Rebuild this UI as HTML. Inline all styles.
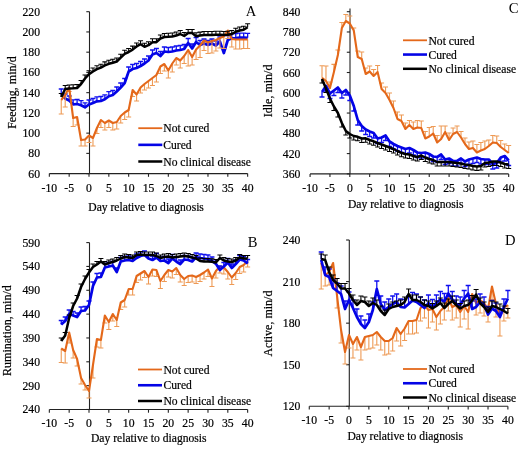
<!DOCTYPE html>
<html><head><meta charset="utf-8"><style>
html,body{margin:0;padding:0;background:#fff;}
svg{display:block;filter:blur(0.3px);}
text{font-family:"Liberation Serif", serif;fill:#000;stroke:#000;stroke-width:0.2px;}
</style></head><body>
<svg width="520" height="451" viewBox="0 0 520 451">
<rect width="520" height="451" fill="#fff"/>
<path d="M89.50 11.70V173.60" stroke="#222" stroke-width="1.1" fill="none"/><path d="M86.30 11.70H89.50" stroke="#222" stroke-width="1.1" fill="none"/><path d="M86.30 31.94H89.50" stroke="#222" stroke-width="1.1" fill="none"/><path d="M86.30 52.18H89.50" stroke="#222" stroke-width="1.1" fill="none"/><path d="M86.30 72.42H89.50" stroke="#222" stroke-width="1.1" fill="none"/><path d="M86.30 92.66H89.50" stroke="#222" stroke-width="1.1" fill="none"/><path d="M86.30 112.90H89.50" stroke="#222" stroke-width="1.1" fill="none"/><path d="M86.30 133.14H89.50" stroke="#222" stroke-width="1.1" fill="none"/><path d="M86.30 153.38H89.50" stroke="#222" stroke-width="1.1" fill="none"/><path d="M86.30 173.62H89.50" stroke="#222" stroke-width="1.1" fill="none"/><path d="M49.34 173.60H247.64" stroke="#222" stroke-width="1.1" fill="none"/><path d="M49.34 173.60V176.80" stroke="#222" stroke-width="1.1" fill="none"/><path d="M69.17 173.60V176.80" stroke="#222" stroke-width="1.1" fill="none"/><path d="M89.00 173.60V176.80" stroke="#222" stroke-width="1.1" fill="none"/><path d="M108.83 173.60V176.80" stroke="#222" stroke-width="1.1" fill="none"/><path d="M128.66 173.60V176.80" stroke="#222" stroke-width="1.1" fill="none"/><path d="M148.49 173.60V176.80" stroke="#222" stroke-width="1.1" fill="none"/><path d="M168.32 173.60V176.80" stroke="#222" stroke-width="1.1" fill="none"/><path d="M188.15 173.60V176.80" stroke="#222" stroke-width="1.1" fill="none"/><path d="M207.98 173.60V176.80" stroke="#222" stroke-width="1.1" fill="none"/><path d="M227.81 173.60V176.80" stroke="#222" stroke-width="1.1" fill="none"/><path d="M247.64 173.60V176.80" stroke="#222" stroke-width="1.1" fill="none"/><text x="40.00" y="15.70" font-size="11.7" text-anchor="end" >220</text><text x="40.00" y="35.94" font-size="11.7" text-anchor="end" >200</text><text x="40.00" y="56.18" font-size="11.7" text-anchor="end" >180</text><text x="40.00" y="76.42" font-size="11.7" text-anchor="end" >160</text><text x="40.00" y="96.66" font-size="11.7" text-anchor="end" >140</text><text x="40.00" y="116.90" font-size="11.7" text-anchor="end" >120</text><text x="40.00" y="137.14" font-size="11.7" text-anchor="end" >100</text><text x="40.00" y="157.38" font-size="11.7" text-anchor="end" >80</text><text x="40.00" y="177.62" font-size="11.7" text-anchor="end" >60</text><text x="49.34" y="191.50" font-size="11.7" text-anchor="middle" >-10</text><text x="69.17" y="191.50" font-size="11.7" text-anchor="middle" >-5</text><text x="89.00" y="191.50" font-size="11.7" text-anchor="middle" >0</text><text x="108.83" y="191.50" font-size="11.7" text-anchor="middle" >5</text><text x="128.66" y="191.50" font-size="11.7" text-anchor="middle" >10</text><text x="148.49" y="191.50" font-size="11.7" text-anchor="middle" >15</text><text x="168.32" y="191.50" font-size="11.7" text-anchor="middle" >20</text><text x="188.15" y="191.50" font-size="11.7" text-anchor="middle" >25</text><text x="207.98" y="191.50" font-size="11.7" text-anchor="middle" >30</text><text x="227.81" y="191.50" font-size="11.7" text-anchor="middle" >35</text><text x="247.64" y="191.50" font-size="11.7" text-anchor="middle" >40</text><text x="88.30" y="211.00" font-size="11.6" text-anchor="start" >Day relative to diagnosis</text><text transform="translate(16.40,92.50) rotate(-90)" font-size="12" text-anchor="middle">Feeding, min/d</text><text x="245.80" y="15.90" font-size="14.6" text-anchor="start" style="stroke-width:0">A</text><path d="M350.00 8.50V173.90" stroke="#222" stroke-width="1.1" fill="none"/><path d="M346.80 11.70H350.00" stroke="#222" stroke-width="1.1" fill="none"/><path d="M346.80 31.97H350.00" stroke="#222" stroke-width="1.1" fill="none"/><path d="M346.80 52.24H350.00" stroke="#222" stroke-width="1.1" fill="none"/><path d="M346.80 72.51H350.00" stroke="#222" stroke-width="1.1" fill="none"/><path d="M346.80 92.78H350.00" stroke="#222" stroke-width="1.1" fill="none"/><path d="M346.80 113.05H350.00" stroke="#222" stroke-width="1.1" fill="none"/><path d="M346.80 133.32H350.00" stroke="#222" stroke-width="1.1" fill="none"/><path d="M346.80 153.59H350.00" stroke="#222" stroke-width="1.1" fill="none"/><path d="M346.80 173.86H350.00" stroke="#222" stroke-width="1.1" fill="none"/><path d="M310.08 173.90H508.68" stroke="#222" stroke-width="1.1" fill="none"/><path d="M310.08 173.90V177.10" stroke="#222" stroke-width="1.1" fill="none"/><path d="M329.94 173.90V177.10" stroke="#222" stroke-width="1.1" fill="none"/><path d="M349.80 173.90V177.10" stroke="#222" stroke-width="1.1" fill="none"/><path d="M369.66 173.90V177.10" stroke="#222" stroke-width="1.1" fill="none"/><path d="M389.52 173.90V177.10" stroke="#222" stroke-width="1.1" fill="none"/><path d="M409.38 173.90V177.10" stroke="#222" stroke-width="1.1" fill="none"/><path d="M429.24 173.90V177.10" stroke="#222" stroke-width="1.1" fill="none"/><path d="M449.10 173.90V177.10" stroke="#222" stroke-width="1.1" fill="none"/><path d="M468.96 173.90V177.10" stroke="#222" stroke-width="1.1" fill="none"/><path d="M488.82 173.90V177.10" stroke="#222" stroke-width="1.1" fill="none"/><path d="M508.68 173.90V177.10" stroke="#222" stroke-width="1.1" fill="none"/><text x="300.40" y="15.70" font-size="11.7" text-anchor="end" >840</text><text x="300.40" y="35.97" font-size="11.7" text-anchor="end" >780</text><text x="300.40" y="56.24" font-size="11.7" text-anchor="end" >720</text><text x="300.40" y="76.51" font-size="11.7" text-anchor="end" >660</text><text x="300.40" y="96.78" font-size="11.7" text-anchor="end" >600</text><text x="300.40" y="117.05" font-size="11.7" text-anchor="end" >540</text><text x="300.40" y="137.32" font-size="11.7" text-anchor="end" >480</text><text x="300.40" y="157.59" font-size="11.7" text-anchor="end" >420</text><text x="300.40" y="177.86" font-size="11.7" text-anchor="end" >360</text><text x="310.08" y="191.50" font-size="11.7" text-anchor="middle" >-10</text><text x="329.94" y="191.50" font-size="11.7" text-anchor="middle" >-5</text><text x="349.80" y="191.50" font-size="11.7" text-anchor="middle" >0</text><text x="369.66" y="191.50" font-size="11.7" text-anchor="middle" >5</text><text x="389.52" y="191.50" font-size="11.7" text-anchor="middle" >10</text><text x="409.38" y="191.50" font-size="11.7" text-anchor="middle" >15</text><text x="429.24" y="191.50" font-size="11.7" text-anchor="middle" >20</text><text x="449.10" y="191.50" font-size="11.7" text-anchor="middle" >25</text><text x="468.96" y="191.50" font-size="11.7" text-anchor="middle" >30</text><text x="488.82" y="191.50" font-size="11.7" text-anchor="middle" >35</text><text x="508.68" y="191.50" font-size="11.7" text-anchor="middle" >40</text><text x="348.00" y="207.80" font-size="11.6" text-anchor="start" >Day relative to diagnosis</text><text transform="translate(271.70,90.90) rotate(-90)" font-size="12" text-anchor="middle">Idle, min/d</text><text x="508.80" y="12.90" font-size="14.6" text-anchor="start" style="stroke-width:0">C</text><path d="M89.50 242.60V409.50" stroke="#222" stroke-width="1.1" fill="none"/><path d="M86.30 242.60H89.50" stroke="#222" stroke-width="1.1" fill="none"/><path d="M86.30 266.44H89.50" stroke="#222" stroke-width="1.1" fill="none"/><path d="M86.30 290.28H89.50" stroke="#222" stroke-width="1.1" fill="none"/><path d="M86.30 314.12H89.50" stroke="#222" stroke-width="1.1" fill="none"/><path d="M86.30 337.96H89.50" stroke="#222" stroke-width="1.1" fill="none"/><path d="M86.30 361.80H89.50" stroke="#222" stroke-width="1.1" fill="none"/><path d="M86.30 385.64H89.50" stroke="#222" stroke-width="1.1" fill="none"/><path d="M86.30 409.48H89.50" stroke="#222" stroke-width="1.1" fill="none"/><path d="M49.34 409.50H247.64" stroke="#222" stroke-width="1.1" fill="none"/><path d="M49.34 409.50V412.70" stroke="#222" stroke-width="1.1" fill="none"/><path d="M69.17 409.50V412.70" stroke="#222" stroke-width="1.1" fill="none"/><path d="M89.00 409.50V412.70" stroke="#222" stroke-width="1.1" fill="none"/><path d="M108.83 409.50V412.70" stroke="#222" stroke-width="1.1" fill="none"/><path d="M128.66 409.50V412.70" stroke="#222" stroke-width="1.1" fill="none"/><path d="M148.49 409.50V412.70" stroke="#222" stroke-width="1.1" fill="none"/><path d="M168.32 409.50V412.70" stroke="#222" stroke-width="1.1" fill="none"/><path d="M188.15 409.50V412.70" stroke="#222" stroke-width="1.1" fill="none"/><path d="M207.98 409.50V412.70" stroke="#222" stroke-width="1.1" fill="none"/><path d="M227.81 409.50V412.70" stroke="#222" stroke-width="1.1" fill="none"/><path d="M247.64 409.50V412.70" stroke="#222" stroke-width="1.1" fill="none"/><text x="40.00" y="246.60" font-size="11.7" text-anchor="end" >590</text><text x="40.00" y="270.44" font-size="11.7" text-anchor="end" >540</text><text x="40.00" y="294.28" font-size="11.7" text-anchor="end" >490</text><text x="40.00" y="318.12" font-size="11.7" text-anchor="end" >440</text><text x="40.00" y="341.96" font-size="11.7" text-anchor="end" >390</text><text x="40.00" y="365.80" font-size="11.7" text-anchor="end" >340</text><text x="40.00" y="389.64" font-size="11.7" text-anchor="end" >290</text><text x="40.00" y="413.48" font-size="11.7" text-anchor="end" >240</text><text x="49.34" y="426.90" font-size="11.7" text-anchor="middle" >-10</text><text x="69.17" y="426.90" font-size="11.7" text-anchor="middle" >-5</text><text x="89.00" y="426.90" font-size="11.7" text-anchor="middle" >0</text><text x="108.83" y="426.90" font-size="11.7" text-anchor="middle" >5</text><text x="128.66" y="426.90" font-size="11.7" text-anchor="middle" >10</text><text x="148.49" y="426.90" font-size="11.7" text-anchor="middle" >15</text><text x="168.32" y="426.90" font-size="11.7" text-anchor="middle" >20</text><text x="188.15" y="426.90" font-size="11.7" text-anchor="middle" >25</text><text x="207.98" y="426.90" font-size="11.7" text-anchor="middle" >30</text><text x="227.81" y="426.90" font-size="11.7" text-anchor="middle" >35</text><text x="247.64" y="426.90" font-size="11.7" text-anchor="middle" >40</text><text x="91.00" y="442.30" font-size="11.6" text-anchor="start" >Day relative to diagnosis</text><text transform="translate(11.00,330.60) rotate(-90)" font-size="12" text-anchor="middle">Rumination, min/d</text><text x="247.80" y="247.20" font-size="14.6" text-anchor="start" style="stroke-width:0">B</text><path d="M349.30 240.00V406.30" stroke="#222" stroke-width="1.1" fill="none"/><path d="M346.10 240.00H349.30" stroke="#222" stroke-width="1.1" fill="none"/><path d="M346.10 281.58H349.30" stroke="#222" stroke-width="1.1" fill="none"/><path d="M346.10 323.16H349.30" stroke="#222" stroke-width="1.1" fill="none"/><path d="M346.10 364.74H349.30" stroke="#222" stroke-width="1.1" fill="none"/><path d="M346.10 406.32H349.30" stroke="#222" stroke-width="1.1" fill="none"/><path d="M309.28 406.30H507.88" stroke="#222" stroke-width="1.1" fill="none"/><path d="M309.28 406.30V409.50" stroke="#222" stroke-width="1.1" fill="none"/><path d="M329.14 406.30V409.50" stroke="#222" stroke-width="1.1" fill="none"/><path d="M349.00 406.30V409.50" stroke="#222" stroke-width="1.1" fill="none"/><path d="M368.86 406.30V409.50" stroke="#222" stroke-width="1.1" fill="none"/><path d="M388.72 406.30V409.50" stroke="#222" stroke-width="1.1" fill="none"/><path d="M408.58 406.30V409.50" stroke="#222" stroke-width="1.1" fill="none"/><path d="M428.44 406.30V409.50" stroke="#222" stroke-width="1.1" fill="none"/><path d="M448.30 406.30V409.50" stroke="#222" stroke-width="1.1" fill="none"/><path d="M468.16 406.30V409.50" stroke="#222" stroke-width="1.1" fill="none"/><path d="M488.02 406.30V409.50" stroke="#222" stroke-width="1.1" fill="none"/><path d="M507.88 406.30V409.50" stroke="#222" stroke-width="1.1" fill="none"/><text x="300.40" y="244.00" font-size="11.7" text-anchor="end" >240</text><text x="300.40" y="285.58" font-size="11.7" text-anchor="end" >210</text><text x="300.40" y="327.16" font-size="11.7" text-anchor="end" >180</text><text x="300.40" y="368.74" font-size="11.7" text-anchor="end" >150</text><text x="300.40" y="410.32" font-size="11.7" text-anchor="end" >120</text><text x="309.28" y="424.30" font-size="11.7" text-anchor="middle" >-10</text><text x="329.14" y="424.30" font-size="11.7" text-anchor="middle" >-5</text><text x="349.00" y="424.30" font-size="11.7" text-anchor="middle" >0</text><text x="368.86" y="424.30" font-size="11.7" text-anchor="middle" >5</text><text x="388.72" y="424.30" font-size="11.7" text-anchor="middle" >10</text><text x="408.58" y="424.30" font-size="11.7" text-anchor="middle" >15</text><text x="428.44" y="424.30" font-size="11.7" text-anchor="middle" >20</text><text x="448.30" y="424.30" font-size="11.7" text-anchor="middle" >25</text><text x="468.16" y="424.30" font-size="11.7" text-anchor="middle" >30</text><text x="488.02" y="424.30" font-size="11.7" text-anchor="middle" >35</text><text x="507.88" y="424.30" font-size="11.7" text-anchor="middle" >40</text><text x="347.40" y="440.00" font-size="11.6" text-anchor="start" >Day relative to diagnosis</text><text transform="translate(271.90,323.60) rotate(-90)" font-size="12" text-anchor="middle">Active, min/d</text><text x="505.10" y="244.90" font-size="14.6" text-anchor="start" style="stroke-width:0">D</text><path d="M61.24 93.50V89.00M58.74 89.00H63.74M65.20 98.50V94.00M62.70 94.00H67.70M69.17 100.50V96.00M66.67 96.00H71.67M73.14 104.30V99.80M70.64 99.80H75.64M77.10 104.00V99.50M74.60 99.50H79.60M81.07 105.20V100.70M78.57 100.70H83.57M85.03 107.30V102.80M82.53 102.80H87.53M89.00 104.50V100.00M86.50 100.00H91.50M92.97 103.00V98.50M90.47 98.50H95.47M96.93 101.30V96.80M94.43 96.80H99.43M100.90 101.00V96.50M98.40 96.50H103.40M104.86 99.30V94.80M102.36 94.80H107.36M108.83 96.20V91.70M106.33 91.70H111.33M112.80 95.00V90.50M110.30 90.50H115.30M116.76 91.50V87.00M114.26 87.00H119.26M120.73 87.50V83.00M118.23 83.00H123.23M124.69 83.00V78.50M122.19 78.50H127.19M128.66 71.50V67.00M126.16 67.00H131.16M132.63 69.00V64.50M130.13 64.50H135.13M136.59 68.00V63.50M134.09 63.50H139.09M140.56 66.00V61.50M138.06 61.50H143.06M144.52 63.50V59.00M142.02 59.00H147.02M148.49 60.50V56.00M145.99 56.00H150.99M152.46 54.50V50.00M149.96 50.00H154.96M156.42 53.00V48.50M153.92 48.50H158.92M160.39 56.00V51.50M157.89 51.50H162.89M164.35 51.50V47.00M161.85 47.00H166.85M168.32 52.00V47.50M165.82 47.50H170.82M172.29 51.50V47.00M169.79 47.00H174.79M176.25 50.50V46.00M173.75 46.00H178.75M180.22 50.00V45.50M177.72 45.50H182.72M184.18 49.00V44.50M181.68 44.50H186.68M188.15 43.00V38.50M185.65 38.50H190.65M192.12 48.50V44.00M189.62 44.00H194.62M196.08 42.00V37.50M193.58 37.50H198.58M200.05 45.00V40.50M197.55 40.50H202.55M204.01 43.50V39.00M201.51 39.00H206.51M207.98 45.00V40.50M205.48 40.50H210.48M211.95 43.50V39.00M209.45 39.00H214.45M215.91 45.50V41.00M213.41 41.00H218.41M219.88 41.50V37.00M217.38 37.00H222.38M223.84 53.00V48.50M221.34 48.50H226.34M227.81 40.00V35.50M225.31 35.50H230.31M231.78 38.30V33.80M229.28 33.80H234.28M235.74 38.00V33.50M233.24 33.50H238.24M239.71 37.60V33.10M237.21 33.10H242.21M243.67 37.60V33.10M241.17 33.10H246.17M247.64 37.80V33.30M245.14 33.30H250.14" stroke="#1010F0" stroke-width="1.3" fill="none" opacity="1.0"/><polyline points="61.24,93.50 65.20,98.50 69.17,100.50 73.14,104.30 77.10,104.00 81.07,105.20 85.03,107.30 89.00,104.50 92.97,103.00 96.93,101.30 100.90,101.00 104.86,99.30 108.83,96.20 112.80,95.00 116.76,91.50 120.73,87.50 124.69,83.00 128.66,71.50 132.63,69.00 136.59,68.00 140.56,66.00 144.52,63.50 148.49,60.50 152.46,54.50 156.42,53.00 160.39,56.00 164.35,51.50 168.32,52.00 172.29,51.50 176.25,50.50 180.22,50.00 184.18,49.00 188.15,43.00 192.12,48.50 196.08,42.00 200.05,45.00 204.01,43.50 207.98,45.00 211.95,43.50 215.91,45.50 219.88,41.50 223.84,53.00 227.81,40.00 231.78,38.30 235.74,38.00 239.71,37.60 243.67,37.60 247.64,37.80" stroke="#0404E6" stroke-width="2.7" fill="none" stroke-linejoin="round"/><path d="M61.24 100.00V114.00M58.74 114.00H63.74M65.20 95.00V107.00M62.70 107.00H67.70M69.17 87.50V91.50M66.67 91.50H71.67M73.14 118.00V126.50M70.64 126.50H75.64M77.10 117.00V125.00M74.60 125.00H79.60M81.07 140.00V146.00M78.57 146.00H83.57M85.03 139.50V146.00M82.53 146.00H87.53M89.00 135.50V142.50M86.50 142.50H91.50M92.97 138.00V146.00M90.47 146.00H95.47M96.93 128.00V133.50M94.43 133.50H99.43M100.90 120.00V127.50M98.40 127.50H103.40M104.86 123.00V130.00M102.36 130.00H107.36M108.83 120.50V127.50M106.33 127.50H111.33M112.80 123.00V130.00M110.30 130.00H115.30M116.76 122.00V129.00M114.26 129.00H119.26M120.73 116.00V123.00M118.23 123.00H123.23M124.69 112.50V119.50M122.19 119.50H127.19M128.66 110.00V117.00M126.16 117.00H131.16M132.63 90.00V96.50M130.13 96.50H135.13M136.59 94.50V101.00M134.09 101.00H139.09M140.56 87.50V93.00M138.06 93.00H143.06M144.52 84.00V90.00M142.02 90.00H147.02M148.49 81.00V88.00M145.99 88.00H150.99M152.46 78.00V85.50M149.96 85.50H154.96M156.42 75.00V82.00M153.92 82.00H158.92M160.39 66.50V73.50M157.89 73.50H162.89M164.35 64.00V71.00M161.85 71.00H166.85M168.32 70.50V78.00M165.82 78.00H170.82M172.29 63.50V72.00M169.79 72.00H174.79M176.25 58.00V65.00M173.75 65.00H178.75M180.22 60.50V68.00M177.72 68.00H182.72M184.18 56.00V63.50M181.68 63.50H186.68M188.15 50.00V66.00M185.65 66.00H190.65M192.12 57.00V65.00M189.62 65.00H194.62M196.08 49.50V59.50M193.58 59.50H198.58M200.05 45.50V57.50M197.55 57.50H202.55M204.01 40.50V50.50M201.51 50.50H206.51M207.98 42.50V53.50M205.48 53.50H210.48M211.95 41.00V53.00M209.45 53.00H214.45M215.91 40.00V51.00M213.41 51.00H218.41M219.88 38.00V48.00M217.38 48.00H222.38M223.84 36.50V48.50M221.34 48.50H226.34M227.81 30.50V38.50M225.31 38.50H230.31M231.78 39.00V47.00M229.28 47.00H234.28M235.74 39.50V49.00M233.24 49.00H238.24M239.71 39.50V49.00M237.21 49.00H242.21M243.67 39.50V48.50M241.17 48.50H246.17M247.64 39.50V48.50M245.14 48.50H250.14" stroke="#EE9A55" stroke-width="1.1" fill="none" opacity="1.0"/><polyline points="61.24,100.00 65.20,95.00 69.17,87.50 73.14,118.00 77.10,117.00 81.07,140.00 85.03,139.50 89.00,135.50 92.97,138.00 96.93,128.00 100.90,120.00 104.86,123.00 108.83,120.50 112.80,123.00 116.76,122.00 120.73,116.00 124.69,112.50 128.66,110.00 132.63,90.00 136.59,94.50 140.56,87.50 144.52,84.00 148.49,81.00 152.46,78.00 156.42,75.00 160.39,66.50 164.35,64.00 168.32,70.50 172.29,63.50 176.25,58.00 180.22,60.50 184.18,56.00 188.15,50.00 192.12,57.00 196.08,49.50 200.05,45.50 204.01,40.50 207.98,42.50 211.95,41.00 215.91,40.00 219.88,38.00 223.84,36.50 227.81,30.50 231.78,39.00 235.74,39.50 239.71,39.50 243.67,39.50 247.64,39.50" stroke="#E4681A" stroke-width="2.1" fill="none" stroke-linejoin="round"/><path d="M61.24 97.00V93.50M58.74 93.50H63.74M65.20 89.00V85.50M62.70 85.50H67.70M69.17 88.50V85.00M66.67 85.00H71.67M73.14 88.30V84.80M70.64 84.80H75.64M77.10 88.00V84.50M74.60 84.50H79.60M81.07 84.00V80.50M78.57 80.50H83.57M85.03 78.50V75.00M82.53 75.00H87.53M89.00 74.20V70.70M86.50 70.70H91.50M92.97 71.50V68.00M90.47 68.00H95.47M96.93 69.20V65.70M94.43 65.70H99.43M100.90 67.70V64.20M98.40 64.20H103.40M104.86 65.40V61.90M102.36 61.90H107.36M108.83 63.80V60.30M106.33 60.30H111.33M112.80 62.80V59.30M110.30 59.30H115.30M116.76 61.50V58.00M114.26 58.00H119.26M120.73 57.70V54.20M118.23 54.20H123.23M124.69 53.80V50.30M122.19 50.30H127.19M128.66 52.00V48.50M126.16 48.50H131.16M132.63 49.60V46.10M130.13 46.10H135.13M136.59 46.50V43.00M134.09 43.00H139.09M140.56 44.20V40.70M138.06 40.70H143.06M144.52 46.80V43.30M142.02 43.30H147.02M148.49 45.20V41.70M145.99 41.70H150.99M152.46 42.20V38.70M149.96 38.70H154.96M156.42 42.20V38.70M153.92 38.70H158.92M160.39 38.50V35.00M157.89 35.00H162.89M164.35 37.00V33.50M161.85 33.50H166.85M168.32 36.80V33.30M165.82 33.30H170.82M172.29 36.50V33.00M169.79 33.00H174.79M176.25 35.50V32.00M173.75 32.00H178.75M180.22 34.00V30.50M177.72 30.50H182.72M184.18 36.00V32.50M181.68 32.50H186.68M188.15 33.00V29.50M185.65 29.50H190.65M192.12 33.00V29.50M189.62 29.50H194.62M196.08 36.20V32.70M193.58 32.70H198.58M200.05 35.60V32.10M197.55 32.10H202.55M204.01 35.00V31.50M201.51 31.50H206.51M207.98 35.00V31.50M205.48 31.50H210.48M211.95 35.00V31.50M209.45 31.50H214.45M215.91 34.80V31.30M213.41 31.30H218.41M219.88 34.80V31.30M217.38 31.30H222.38M223.84 35.00V31.50M221.34 31.50H226.34M227.81 34.80V31.30M225.31 31.30H230.31M231.78 34.00V30.50M229.28 30.50H234.28M235.74 31.80V28.30M233.24 28.30H238.24M239.71 30.50V27.00M237.21 27.00H242.21M243.67 29.80V26.30M241.17 26.30H246.17M247.64 27.30V23.80M245.14 23.80H250.14" stroke="#000000" stroke-width="1.1" fill="none" opacity="1.0"/><polyline points="61.24,97.00 65.20,89.00 69.17,88.50 73.14,88.30 77.10,88.00 81.07,84.00 85.03,78.50 89.00,74.20 92.97,71.50 96.93,69.20 100.90,67.70 104.86,65.40 108.83,63.80 112.80,62.80 116.76,61.50 120.73,57.70 124.69,53.80 128.66,52.00 132.63,49.60 136.59,46.50 140.56,44.20 144.52,46.80 148.49,45.20 152.46,42.20 156.42,42.20 160.39,38.50 164.35,37.00 168.32,36.80 172.29,36.50 176.25,35.50 180.22,34.00 184.18,36.00 188.15,33.00 192.12,33.00 196.08,36.20 200.05,35.60 204.01,35.00 207.98,35.00 211.95,35.00 215.91,34.80 219.88,34.80 223.84,35.00 227.81,34.80 231.78,34.00 235.74,31.80 239.71,30.50 243.67,29.80 247.64,27.30" stroke="#000000" stroke-width="2.5" fill="none" stroke-linejoin="round"/><path d="M322.00 77.70V65.70M319.50 65.70H324.50M325.97 81.00V66.00M323.47 66.00H328.47M329.94 88.00V82.00M327.44 82.00H332.44M333.91 72.00V64.40M331.41 64.40H336.41M337.88 55.00V50.00M335.38 50.00H340.38M341.86 28.00V22.50M339.36 22.50H344.36M345.83 21.00V14.50M343.33 14.50H348.33M349.80 23.50V16.00M347.30 16.00H352.30M353.77 30.50V28.00M351.27 28.00H356.27M357.74 57.00V51.00M355.24 51.00H360.24M361.72 59.00V52.00M359.22 52.00H364.22M365.69 74.00V68.00M363.19 68.00H368.19M369.66 71.50V66.00M367.16 66.00H372.16M373.63 76.00V69.50M371.13 69.50H376.13M377.60 72.00V65.50M375.10 65.50H380.10M381.58 89.00V83.00M379.08 83.00H384.08M385.55 93.00V87.00M383.05 87.00H388.05M389.52 100.00V93.00M387.02 93.00H392.02M393.49 108.00V101.00M390.99 101.00H395.99M397.46 119.00V112.00M394.96 112.00H399.96M401.44 121.00V115.00M398.94 115.00H403.94M405.41 129.00V123.00M402.91 123.00H407.91M409.38 125.00V120.50M406.88 120.50H411.88M413.35 129.00V122.00M410.85 122.00H415.85M417.32 127.50V120.50M414.82 120.50H419.82M421.30 128.00V121.00M418.80 121.00H423.80M425.27 138.50V131.50M422.77 131.50H427.77M429.24 136.50V127.50M426.74 127.50H431.74M433.21 133.50V126.50M430.71 126.50H435.71M437.18 142.50V135.50M434.68 135.50H439.68M441.16 139.00V126.00M438.66 126.00H443.66M445.13 132.00V126.00M442.63 126.00H447.63M449.10 140.00V133.00M446.60 133.00H451.60M453.07 134.00V128.00M450.57 128.00H455.57M457.04 132.00V126.00M454.54 126.00H459.54M461.02 137.50V131.50M458.52 131.50H463.52M464.99 144.00V138.00M462.49 138.00H467.49M468.96 149.00V142.00M466.46 142.00H471.46M472.93 148.00V141.00M470.43 141.00H475.43M476.90 152.50V144.50M474.40 144.50H479.40M480.88 150.50V142.50M478.38 142.50H483.38M484.85 149.00V141.00M482.35 141.00H487.35M488.82 146.00V140.00M486.32 140.00H491.32M492.79 142.50V135.50M490.29 135.50H495.29M496.76 143.00V136.00M494.26 136.00H499.26M500.74 147.00V140.50M498.24 140.50H503.24M504.71 150.00V144.00M502.21 144.00H507.21M508.68 153.00V145.50M506.18 145.50H511.18" stroke="#EE9A55" stroke-width="1.1" fill="none" opacity="1.0"/><polyline points="322.00,77.70 325.97,81.00 329.94,88.00 333.91,72.00 337.88,55.00 341.86,28.00 345.83,21.00 349.80,23.50 353.77,30.50 357.74,57.00 361.72,59.00 365.69,74.00 369.66,71.50 373.63,76.00 377.60,72.00 381.58,89.00 385.55,93.00 389.52,100.00 393.49,108.00 397.46,119.00 401.44,121.00 405.41,129.00 409.38,125.00 413.35,129.00 417.32,127.50 421.30,128.00 425.27,138.50 429.24,136.50 433.21,133.50 437.18,142.50 441.16,139.00 445.13,132.00 449.10,140.00 453.07,134.00 457.04,132.00 461.02,137.50 464.99,144.00 468.96,149.00 472.93,148.00 476.90,152.50 480.88,150.50 484.85,149.00 488.82,146.00 492.79,142.50 496.76,143.00 500.74,147.00 504.71,150.00 508.68,153.00" stroke="#E4681A" stroke-width="2.1" fill="none" stroke-linejoin="round"/><path d="M322.00 92.00V97.00M319.50 97.00H324.50M325.97 86.00V91.00M323.47 91.00H328.47M329.94 93.50V98.50M327.44 98.50H332.44M333.91 90.50V95.50M331.41 95.50H336.41M337.88 87.50V92.50M335.38 92.50H340.38M341.86 93.00V98.00M339.36 98.00H344.36M345.83 90.00V95.00M343.33 95.00H348.33M349.80 95.50V100.50M347.30 100.50H352.30M353.77 106.00V111.00M351.27 111.00H356.27M357.74 120.00V125.00M355.24 125.00H360.24M361.72 126.00V131.00M359.22 131.00H364.22M365.69 129.50V134.50M363.19 134.50H368.19M369.66 131.50V136.50M367.16 136.50H372.16M373.63 133.00V138.00M371.13 138.00H376.13M377.60 138.50V143.50M375.10 143.50H380.10M381.58 137.50V142.50M379.08 142.50H384.08M385.55 135.50V140.50M383.05 140.50H388.05M389.52 141.50V146.50M387.02 146.50H392.02M393.49 144.00V149.00M390.99 149.00H395.99M397.46 146.00V151.00M394.96 151.00H399.96M401.44 147.50V152.50M398.94 152.50H403.94M405.41 149.00V154.00M402.91 154.00H407.91M409.38 148.00V153.00M406.88 153.00H411.88M413.35 150.00V155.00M410.85 155.00H415.85M417.32 152.50V157.50M414.82 157.50H419.82M421.30 153.00V158.00M418.80 158.00H423.80M425.27 152.50V157.50M422.77 157.50H427.77M429.24 154.00V159.00M426.74 159.00H431.74M433.21 156.50V161.50M430.71 161.50H435.71M437.18 157.00V162.00M434.68 162.00H439.68M441.16 154.50V159.50M438.66 159.50H443.66M445.13 159.50V164.50M442.63 164.50H447.63M449.10 158.50V163.50M446.60 163.50H451.60M453.07 161.00V166.00M450.57 166.00H455.57M457.04 161.00V166.00M454.54 166.00H459.54M461.02 158.50V163.50M458.52 163.50H463.52M464.99 161.50V166.50M462.49 166.50H467.49M468.96 159.50V164.50M466.46 164.50H471.46M472.93 158.50V163.50M470.43 163.50H475.43M476.90 157.50V162.50M474.40 162.50H479.40M480.88 159.00V164.00M478.38 164.00H483.38M484.85 159.50V164.50M482.35 164.50H487.35M488.82 159.50V164.50M486.32 164.50H491.32M492.79 164.00V169.00M490.29 169.00H495.29M496.76 163.00V168.00M494.26 168.00H499.26M500.74 157.50V162.50M498.24 162.50H503.24M504.71 156.00V161.00M502.21 161.00H507.21M508.68 160.50V165.50M506.18 165.50H511.18" stroke="#1010F0" stroke-width="1.3" fill="none" opacity="1.0"/><polyline points="322.00,92.00 325.97,86.00 329.94,93.50 333.91,90.50 337.88,87.50 341.86,93.00 345.83,90.00 349.80,95.50 353.77,106.00 357.74,120.00 361.72,126.00 365.69,129.50 369.66,131.50 373.63,133.00 377.60,138.50 381.58,137.50 385.55,135.50 389.52,141.50 393.49,144.00 397.46,146.00 401.44,147.50 405.41,149.00 409.38,148.00 413.35,150.00 417.32,152.50 421.30,153.00 425.27,152.50 429.24,154.00 433.21,156.50 437.18,157.00 441.16,154.50 445.13,159.50 449.10,158.50 453.07,161.00 457.04,161.00 461.02,158.50 464.99,161.50 468.96,159.50 472.93,158.50 476.90,157.50 480.88,159.00 484.85,159.50 488.82,159.50 492.79,164.00 496.76,163.00 500.74,157.50 504.71,156.00 508.68,160.50" stroke="#0404E6" stroke-width="2.7" fill="none" stroke-linejoin="round"/><path d="M322.00 79.00V83.00M319.50 83.00H324.50M325.97 88.50V92.50M323.47 92.50H328.47M329.94 98.50V102.50M327.44 102.50H332.44M333.91 106.50V110.50M331.41 110.50H336.41M337.88 113.00V117.00M335.38 117.00H340.38M341.86 123.00V127.00M339.36 127.00H344.36M345.83 131.00V135.00M343.33 135.00H348.33M349.80 134.00V138.00M347.30 138.00H352.30M353.77 136.00V140.00M351.27 140.00H356.27M357.74 136.80V140.80M355.24 140.80H360.24M361.72 138.50V142.50M359.22 142.50H364.22M365.69 138.30V142.30M363.19 142.30H368.19M369.66 140.00V144.00M367.16 144.00H372.16M373.63 141.30V145.30M371.13 145.30H376.13M377.60 143.00V147.00M375.10 147.00H380.10M381.58 144.50V148.50M379.08 148.50H384.08M385.55 146.00V150.00M383.05 150.00H388.05M389.52 147.50V151.50M387.02 151.50H392.02M393.49 149.00V153.00M390.99 153.00H395.99M397.46 151.00V155.00M394.96 155.00H399.96M401.44 152.80V156.80M398.94 156.80H403.94M405.41 154.00V158.00M402.91 158.00H407.91M409.38 154.50V158.50M406.88 158.50H411.88M413.35 156.00V160.00M410.85 160.00H415.85M417.32 157.00V161.00M414.82 161.00H419.82M421.30 155.50V159.50M418.80 159.50H423.80M425.27 157.50V161.50M422.77 161.50H427.77M429.24 159.00V163.00M426.74 163.00H431.74M433.21 160.00V164.00M430.71 164.00H435.71M437.18 162.00V166.00M434.68 166.00H439.68M441.16 162.00V166.00M438.66 166.00H443.66M445.13 162.00V166.00M442.63 166.00H447.63M449.10 162.00V166.00M446.60 166.00H451.60M453.07 162.50V166.50M450.57 166.50H455.57M457.04 163.00V167.00M454.54 167.00H459.54M461.02 163.50V167.50M458.52 167.50H463.52M464.99 164.50V168.50M462.49 168.50H467.49M468.96 165.00V169.00M466.46 169.00H471.46M472.93 166.00V170.00M470.43 170.00H475.43M476.90 166.50V170.50M474.40 170.50H479.40M480.88 166.00V170.00M478.38 170.00H483.38M484.85 163.00V167.00M482.35 167.00H487.35M488.82 162.50V166.50M486.32 166.50H491.32M492.79 161.50V165.50M490.29 165.50H495.29M496.76 161.50V165.50M494.26 165.50H499.26M500.74 162.50V166.50M498.24 166.50H503.24M504.71 164.00V168.00M502.21 168.00H507.21M508.68 164.50V168.50M506.18 168.50H511.18" stroke="#000000" stroke-width="1.1" fill="none" opacity="1.0"/><polyline points="322.00,79.00 325.97,88.50 329.94,98.50 333.91,106.50 337.88,113.00 341.86,123.00 345.83,131.00 349.80,134.00 353.77,136.00 357.74,136.80 361.72,138.50 365.69,138.30 369.66,140.00 373.63,141.30 377.60,143.00 381.58,144.50 385.55,146.00 389.52,147.50 393.49,149.00 397.46,151.00 401.44,152.80 405.41,154.00 409.38,154.50 413.35,156.00 417.32,157.00 421.30,155.50 425.27,157.50 429.24,159.00 433.21,160.00 437.18,162.00 441.16,162.00 445.13,162.00 449.10,162.00 453.07,162.50 457.04,163.00 461.02,163.50 464.99,164.50 468.96,165.00 472.93,166.00 476.90,166.50 480.88,166.00 484.85,163.00 488.82,162.50 492.79,161.50 496.76,161.50 500.74,162.50 504.71,164.00 508.68,164.50" stroke="#000000" stroke-width="2.5" fill="none" stroke-linejoin="round"/><path d="M61.24 348.50V362.50M58.74 362.50H63.74M65.20 351.00V363.00M62.70 363.00H67.70M69.17 332.50V343.00M66.67 343.00H71.67M73.14 350.00V358.00M70.64 358.00H75.64M77.10 359.00V366.00M74.60 366.00H79.60M81.07 378.00V384.00M78.57 384.00H83.57M85.03 385.00V390.00M82.53 390.00H87.53M89.00 391.00V398.00M86.50 398.00H91.50M92.97 365.00V378.00M90.47 378.00H95.47M96.93 339.00V347.00M94.43 347.00H99.43M100.90 340.00V348.00M98.40 348.00H103.40M104.86 315.50V323.00M102.36 323.00H107.36M108.83 322.00V329.50M106.33 329.50H111.33M112.80 314.00V321.00M110.30 321.00H115.30M116.76 320.00V326.50M114.26 326.50H119.26M120.73 302.50V309.50M118.23 309.50H123.23M124.69 300.00V307.00M122.19 307.00H127.19M128.66 289.00V295.00M126.16 295.00H131.16M132.63 289.00V295.00M130.13 295.00H135.13M136.59 276.00V282.50M134.09 282.50H139.09M140.56 273.50V280.00M138.06 280.00H143.06M144.52 271.00V277.50M142.02 277.50H147.02M148.49 277.00V284.00M145.99 284.00H150.99M152.46 269.50V276.00M149.96 276.00H154.96M156.42 270.00V276.50M153.92 276.50H158.92M160.39 281.00V288.50M157.89 288.50H162.89M164.35 275.00V281.50M161.85 281.50H166.85M168.32 270.00V277.00M165.82 277.00H170.82M172.29 271.50V278.00M169.79 278.00H174.79M176.25 268.00V274.50M173.75 274.50H178.75M180.22 275.00V282.00M177.72 282.00H182.72M184.18 279.00V285.50M181.68 285.50H186.68M188.15 276.00V282.50M185.65 282.50H190.65M192.12 275.50V282.00M189.62 282.00H194.62M196.08 277.00V283.50M193.58 283.50H198.58M200.05 275.00V281.50M197.55 281.50H202.55M204.01 272.50V279.00M201.51 279.00H206.51M207.98 269.50V276.50M205.48 276.50H210.48M211.95 278.50V286.50M209.45 286.50H214.45M215.91 271.00V278.00M213.41 278.00H218.41M219.88 266.50V273.00M217.38 273.00H222.38M223.84 267.50V274.00M221.34 274.00H226.34M227.81 272.00V279.00M225.31 279.00H230.31M231.78 277.50V284.50M229.28 284.50H234.28M235.74 273.00V279.50M233.24 279.50H238.24M239.71 267.00V273.50M237.21 273.50H242.21M243.67 265.00V272.00M241.17 272.00H246.17M247.64 261.00V267.00M245.14 267.00H250.14" stroke="#EE9A55" stroke-width="1.1" fill="none" opacity="1.0"/><polyline points="61.24,348.50 65.20,351.00 69.17,332.50 73.14,350.00 77.10,359.00 81.07,378.00 85.03,385.00 89.00,391.00 92.97,365.00 96.93,339.00 100.90,340.00 104.86,315.50 108.83,322.00 112.80,314.00 116.76,320.00 120.73,302.50 124.69,300.00 128.66,289.00 132.63,289.00 136.59,276.00 140.56,273.50 144.52,271.00 148.49,277.00 152.46,269.50 156.42,270.00 160.39,281.00 164.35,275.00 168.32,270.00 172.29,271.50 176.25,268.00 180.22,275.00 184.18,279.00 188.15,276.00 192.12,275.50 196.08,277.00 200.05,275.00 204.01,272.50 207.98,269.50 211.95,278.50 215.91,271.00 219.88,266.50 223.84,267.50 227.81,272.00 231.78,277.50 235.74,273.00 239.71,267.00 243.67,265.00 247.64,261.00" stroke="#E4681A" stroke-width="2.1" fill="none" stroke-linejoin="round"/><path d="M61.24 324.50V320.50M58.74 320.50H63.74M65.20 321.00V317.00M62.70 317.00H67.70M69.17 314.00V310.00M66.67 310.00H71.67M73.14 315.50V311.50M70.64 311.50H75.64M77.10 317.00V313.00M74.60 313.00H79.60M81.07 311.00V307.00M78.57 307.00H83.57M85.03 310.50V306.50M82.53 306.50H87.53M89.00 305.00V301.00M86.50 301.00H91.50M92.97 286.00V282.00M90.47 282.00H95.47M96.93 277.50V273.50M94.43 273.50H99.43M100.90 277.00V273.00M98.40 273.00H103.40M104.86 267.50V263.50M102.36 263.50H107.36M108.83 266.50V262.50M106.33 262.50H111.33M112.80 265.50V261.50M110.30 261.50H115.30M116.76 272.00V268.00M114.26 268.00H119.26M120.73 261.50V257.50M118.23 257.50H123.23M124.69 260.50V256.50M122.19 256.50H127.19M128.66 260.00V256.00M126.16 256.00H131.16M132.63 261.00V257.00M130.13 257.00H135.13M136.59 258.00V254.00M134.09 254.00H139.09M140.56 256.00V252.00M138.06 252.00H143.06M144.52 255.00V251.00M142.02 251.00H147.02M148.49 258.50V254.50M145.99 254.50H150.99M152.46 260.00V256.00M149.96 256.00H154.96M156.42 257.50V253.50M153.92 253.50H158.92M160.39 261.00V257.00M157.89 257.00H162.89M164.35 260.50V256.50M161.85 256.50H166.85M168.32 263.00V259.00M165.82 259.00H170.82M172.29 258.50V254.50M169.79 254.50H174.79M176.25 261.50V257.50M173.75 257.50H178.75M180.22 264.00V260.00M177.72 260.00H182.72M184.18 259.50V255.50M181.68 255.50H186.68M188.15 260.00V256.00M185.65 256.00H190.65M192.12 261.50V257.50M189.62 257.50H194.62M196.08 257.00V253.00M193.58 253.00H198.58M200.05 258.00V254.00M197.55 254.00H202.55M204.01 258.50V254.50M201.51 254.50H206.51M207.98 259.00V255.00M205.48 255.00H210.48M211.95 261.00V257.00M209.45 257.00H214.45M215.91 263.80V259.80M213.41 259.80H218.41M219.88 270.00V266.00M217.38 266.00H222.38M223.84 266.50V262.50M221.34 262.50H226.34M227.81 262.50V258.50M225.31 258.50H230.31M231.78 268.00V264.00M229.28 264.00H234.28M235.74 264.00V260.00M233.24 260.00H238.24M239.71 259.50V255.50M237.21 255.50H242.21M243.67 260.50V256.50M241.17 256.50H246.17M247.64 263.50V259.50M245.14 259.50H250.14" stroke="#1010F0" stroke-width="1.3" fill="none" opacity="1.0"/><polyline points="61.24,324.50 65.20,321.00 69.17,314.00 73.14,315.50 77.10,317.00 81.07,311.00 85.03,310.50 89.00,305.00 92.97,286.00 96.93,277.50 100.90,277.00 104.86,267.50 108.83,266.50 112.80,265.50 116.76,272.00 120.73,261.50 124.69,260.50 128.66,260.00 132.63,261.00 136.59,258.00 140.56,256.00 144.52,255.00 148.49,258.50 152.46,260.00 156.42,257.50 160.39,261.00 164.35,260.50 168.32,263.00 172.29,258.50 176.25,261.50 180.22,264.00 184.18,259.50 188.15,260.00 192.12,261.50 196.08,257.00 200.05,258.00 204.01,258.50 207.98,259.00 211.95,261.00 215.91,263.80 219.88,270.00 223.84,266.50 227.81,262.50 231.78,268.00 235.74,264.00 239.71,259.50 243.67,260.50 247.64,263.50" stroke="#0404E6" stroke-width="2.7" fill="none" stroke-linejoin="round"/><path d="M61.24 341.00V338.00M58.74 338.00H63.74M65.20 335.50V332.50M62.70 332.50H67.70M69.17 318.00V315.00M66.67 315.00H71.67M73.14 306.00V303.00M70.64 303.00H75.64M77.10 298.50V295.50M74.60 295.50H79.60M81.07 287.00V284.00M78.57 284.00H83.57M85.03 279.00V276.00M82.53 276.00H87.53M89.00 272.50V269.50M86.50 269.50H91.50M92.97 267.00V264.00M90.47 264.00H95.47M96.93 264.50V261.50M94.43 261.50H99.43M100.90 261.50V258.50M98.40 258.50H103.40M104.86 264.50V261.50M102.36 261.50H107.36M108.83 263.00V260.00M106.33 260.00H111.33M112.80 262.00V259.00M110.30 259.00H115.30M116.76 260.50V257.50M114.26 257.50H119.26M120.73 258.50V255.50M118.23 255.50H123.23M124.69 257.00V254.00M122.19 254.00H127.19M128.66 257.50V254.50M126.16 254.50H131.16M132.63 258.00V255.00M130.13 255.00H135.13M136.59 255.00V252.00M134.09 252.00H139.09M140.56 254.50V251.50M138.06 251.50H143.06M144.52 255.00V252.00M142.02 252.00H147.02M148.49 255.00V252.00M145.99 252.00H150.99M152.46 255.00V252.00M149.96 252.00H154.96M156.42 256.00V253.00M153.92 253.00H158.92M160.39 258.00V255.00M157.89 255.00H162.89M164.35 257.00V254.00M161.85 254.00H166.85M168.32 256.50V253.50M165.82 253.50H170.82M172.29 257.50V254.50M169.79 254.50H174.79M176.25 257.00V254.00M173.75 254.00H178.75M180.22 256.50V253.50M177.72 253.50H182.72M184.18 256.00V253.00M181.68 253.00H186.68M188.15 256.50V253.50M185.65 253.50H190.65M192.12 257.50V254.50M189.62 254.50H194.62M196.08 258.50V255.50M193.58 255.50H198.58M200.05 261.00V258.00M197.55 258.00H202.55M204.01 261.50V258.50M201.51 258.50H206.51M207.98 261.50V258.50M205.48 258.50H210.48M211.95 261.80V258.80M209.45 258.80H214.45M215.91 262.50V259.50M213.41 259.50H218.41M219.88 258.00V255.00M217.38 255.00H222.38M223.84 260.50V257.50M221.34 257.50H226.34M227.81 261.50V258.50M225.31 258.50H230.31M231.78 262.00V259.00M229.28 259.00H234.28M235.74 260.50V257.50M233.24 257.50H238.24M239.71 257.50V254.50M237.21 254.50H242.21M243.67 258.50V255.50M241.17 255.50H246.17M247.64 258.50V255.50M245.14 255.50H250.14" stroke="#000000" stroke-width="1.1" fill="none" opacity="1.0"/><polyline points="61.24,341.00 65.20,335.50 69.17,318.00 73.14,306.00 77.10,298.50 81.07,287.00 85.03,279.00 89.00,272.50 92.97,267.00 96.93,264.50 100.90,261.50 104.86,264.50 108.83,263.00 112.80,262.00 116.76,260.50 120.73,258.50 124.69,257.00 128.66,257.50 132.63,258.00 136.59,255.00 140.56,254.50 144.52,255.00 148.49,255.00 152.46,255.00 156.42,256.00 160.39,258.00 164.35,257.00 168.32,256.50 172.29,257.50 176.25,257.00 180.22,256.50 184.18,256.00 188.15,256.50 192.12,257.50 196.08,258.50 200.05,261.00 204.01,261.50 207.98,261.50 211.95,261.80 215.91,262.50 219.88,258.00 223.84,260.50 227.81,261.50 231.78,262.00 235.74,260.50 239.71,257.50 243.67,258.50 247.64,258.50" stroke="#000000" stroke-width="2.5" fill="none" stroke-linejoin="round"/><path d="M321.20 263.00V289.00M318.70 289.00H323.70M325.17 275.00V286.00M322.67 286.00H327.67M329.14 272.00V285.00M326.64 285.00H331.64M333.11 263.00V275.00M330.61 275.00H335.61M337.08 296.00V308.00M334.58 308.00H339.58M341.06 330.00V343.00M338.56 343.00H343.56M345.03 352.00V364.00M342.53 364.00H347.53M349.00 335.00V348.00M346.50 348.00H351.50M352.97 344.00V358.00M350.47 358.00H355.47M356.94 337.00V350.00M354.44 350.00H359.44M360.92 347.00V360.00M358.42 360.00H363.42M364.89 337.00V350.00M362.39 350.00H367.39M368.86 336.00V349.00M366.36 349.00H371.36M372.83 335.00V348.00M370.33 348.00H375.33M376.80 332.00V345.00M374.30 345.00H379.30M380.78 337.00V350.00M378.28 350.00H383.28M384.75 341.00V355.00M382.25 355.00H387.25M388.72 341.00V354.00M386.22 354.00H391.22M392.69 338.00V351.00M390.19 351.00H395.19M396.66 328.00V341.00M394.16 341.00H399.16M400.64 334.00V346.00M398.14 346.00H403.14M404.61 328.50V340.50M402.11 340.50H407.11M408.58 321.00V334.00M406.08 334.00H411.08M412.55 321.00V334.00M410.05 334.00H415.05M416.52 320.00V333.00M414.02 333.00H419.02M420.50 308.00V321.00M418.00 321.00H423.00M424.47 305.00V318.00M421.97 318.00H426.97M428.44 310.00V328.00M425.94 328.00H430.94M432.41 309.00V322.00M429.91 322.00H434.91M436.38 317.00V330.00M433.88 330.00H438.88M440.36 311.00V324.00M437.86 324.00H442.86M444.33 307.00V320.00M441.83 320.00H446.83M448.30 298.00V311.00M445.80 311.00H450.80M452.27 307.00V320.00M449.77 320.00H454.77M456.24 305.00V318.00M453.74 318.00H458.74M460.22 312.00V327.00M457.72 327.00H462.72M464.19 306.00V319.00M461.69 319.00H466.69M468.16 312.00V329.00M465.66 329.00H470.66M472.13 294.00V307.00M469.63 307.00H474.63M476.10 303.00V315.00M473.60 315.00H478.60M480.08 300.00V313.00M477.58 313.00H482.58M484.05 303.00V316.00M481.55 316.00H486.55M488.02 309.00V322.00M485.52 322.00H490.52M491.99 286.50V299.50M489.49 299.50H494.49M495.96 304.00V317.00M493.46 317.00H498.46M499.94 316.00V336.00M497.44 336.00H502.44M503.91 308.00V321.00M501.41 321.00H506.41M507.88 305.00V318.00M505.38 318.00H510.38" stroke="#EE9A55" stroke-width="1.1" fill="none" opacity="1.0"/><polyline points="321.20,263.00 325.17,275.00 329.14,272.00 333.11,263.00 337.08,296.00 341.06,330.00 345.03,352.00 349.00,335.00 352.97,344.00 356.94,337.00 360.92,347.00 364.89,337.00 368.86,336.00 372.83,335.00 376.80,332.00 380.78,337.00 384.75,341.00 388.72,341.00 392.69,338.00 396.66,328.00 400.64,334.00 404.61,328.50 408.58,321.00 412.55,321.00 416.52,320.00 420.50,308.00 424.47,305.00 428.44,310.00 432.41,309.00 436.38,317.00 440.36,311.00 444.33,307.00 448.30,298.00 452.27,307.00 456.24,305.00 460.22,312.00 464.19,306.00 468.16,312.00 472.13,294.00 476.10,303.00 480.08,300.00 484.05,303.00 488.02,309.00 491.99,286.50 495.96,304.00 499.94,316.00 503.91,308.00 507.88,305.00" stroke="#E4681A" stroke-width="2.1" fill="none" stroke-linejoin="round"/><path d="M321.20 260.00V252.00M318.70 252.00H323.70M325.17 275.00V267.00M322.67 267.00H327.67M329.14 277.00V269.00M326.64 269.00H331.64M333.11 288.00V280.00M330.61 280.00H335.61M337.08 291.00V283.00M334.58 283.00H339.58M341.06 294.00V286.00M338.56 286.00H343.56M345.03 309.00V301.00M342.53 301.00H347.53M349.00 300.00V292.00M346.50 292.00H351.50M352.97 308.00V300.00M350.47 300.00H355.47M356.94 317.00V309.00M354.44 309.00H359.44M360.92 324.00V316.00M358.42 316.00H363.42M364.89 328.00V320.00M362.39 320.00H367.39M368.86 322.00V314.00M366.36 314.00H371.36M372.83 310.00V302.00M370.33 302.00H375.33M376.80 289.00V281.00M374.30 281.00H379.30M380.78 304.00V296.00M378.28 296.00H383.28M384.75 310.00V302.00M382.25 302.00H387.25M388.72 307.00V299.00M386.22 299.00H391.22M392.69 304.00V296.00M390.19 296.00H395.19M396.66 302.00V294.00M394.16 294.00H399.16M400.64 307.00V299.00M398.14 299.00H403.14M404.61 307.50V299.50M402.11 299.50H407.11M408.58 304.00V296.00M406.08 296.00H411.08M412.55 300.50V292.50M410.05 292.50H415.05M416.52 302.00V294.00M414.02 294.00H419.02M420.50 305.00V297.00M418.00 297.00H423.00M424.47 308.00V300.00M421.97 300.00H426.97M428.44 303.00V295.00M425.94 295.00H430.94M432.41 307.50V299.50M429.91 299.50H434.91M436.38 303.00V295.00M433.88 295.00H438.88M440.36 299.50V291.50M437.86 291.50H442.86M444.33 301.50V293.50M441.83 293.50H446.83M448.30 293.50V285.50M445.80 285.50H450.80M452.27 299.50V291.50M449.77 291.50H454.77M456.24 304.00V296.00M453.74 296.00H458.74M460.22 305.00V297.00M457.72 297.00H462.72M464.19 298.50V290.50M461.69 290.50H466.69M468.16 293.50V285.50M465.66 285.50H470.66M472.13 309.00V301.00M469.63 301.00H474.63M476.10 307.00V299.00M473.60 299.00H478.60M480.08 302.00V294.00M477.58 294.00H482.58M484.05 305.00V297.00M481.55 297.00H486.55M488.02 314.50V306.50M485.52 306.50H490.52M491.99 308.50V300.50M489.49 300.50H494.49M495.96 311.00V303.00M493.46 303.00H498.46M499.94 317.00V309.00M497.44 309.00H502.44M503.91 307.00V299.00M501.41 299.00H506.41M507.88 298.50V290.50M505.38 290.50H510.38" stroke="#1010F0" stroke-width="1.3" fill="none" opacity="1.0"/><polyline points="321.20,260.00 325.17,275.00 329.14,277.00 333.11,288.00 337.08,291.00 341.06,294.00 345.03,309.00 349.00,300.00 352.97,308.00 356.94,317.00 360.92,324.00 364.89,328.00 368.86,322.00 372.83,310.00 376.80,289.00 380.78,304.00 384.75,310.00 388.72,307.00 392.69,304.00 396.66,302.00 400.64,307.00 404.61,307.50 408.58,304.00 412.55,300.50 416.52,302.00 420.50,305.00 424.47,308.00 428.44,303.00 432.41,307.50 436.38,303.00 440.36,299.50 444.33,301.50 448.30,293.50 452.27,299.50 456.24,304.00 460.22,305.00 464.19,298.50 468.16,293.50 472.13,309.00 476.10,307.00 480.08,302.00 484.05,305.00 488.02,314.50 491.99,308.50 495.96,311.00 499.94,317.00 503.91,307.00 507.88,298.50" stroke="#0404E6" stroke-width="2.7" fill="none" stroke-linejoin="round"/><path d="M321.20 259.00V254.00M318.70 254.00H323.70M325.17 260.00V255.00M322.67 255.00H327.67M329.14 272.00V267.00M326.64 267.00H331.64M333.11 280.00V275.00M330.61 275.00H335.61M337.08 283.50V278.50M334.58 278.50H339.58M341.06 288.50V283.50M338.56 283.50H343.56M345.03 288.50V283.50M342.53 283.50H347.53M349.00 293.50V288.50M346.50 288.50H351.50M352.97 300.00V295.00M350.47 295.00H355.47M356.94 305.00V300.00M354.44 300.00H359.44M360.92 301.00V296.00M358.42 296.00H363.42M364.89 302.00V297.00M362.39 297.00H367.39M368.86 306.00V301.00M366.36 301.00H371.36M372.83 303.00V298.00M370.33 298.00H375.33M376.80 305.00V300.00M374.30 300.00H379.30M380.78 311.00V306.00M378.28 306.00H383.28M384.75 315.00V310.00M382.25 310.00H387.25M388.72 309.00V304.00M386.22 304.00H391.22M392.69 307.00V302.00M390.19 302.00H395.19M396.66 306.00V301.00M394.16 301.00H399.16M400.64 305.00V300.00M398.14 300.00H403.14M404.61 302.00V297.00M402.11 297.00H407.11M408.58 294.00V289.00M406.08 289.00H411.08M412.55 300.00V295.00M410.05 295.00H415.05M416.52 300.00V295.00M414.02 295.00H419.02M420.50 302.00V297.00M418.00 297.00H423.00M424.47 305.00V300.00M421.97 300.00H426.97M428.44 306.00V301.00M425.94 301.00H430.94M432.41 308.50V303.50M429.91 303.50H434.91M436.38 306.00V301.00M433.88 301.00H438.88M440.36 303.00V298.00M437.86 298.00H442.86M444.33 308.00V303.00M441.83 303.00H446.83M448.30 304.00V299.00M445.80 299.00H450.80M452.27 301.00V296.00M449.77 296.00H454.77M456.24 305.00V300.00M453.74 300.00H458.74M460.22 308.50V303.50M457.72 303.50H462.72M464.19 306.00V301.00M461.69 301.00H466.69M468.16 305.00V300.00M465.66 300.00H470.66M472.13 300.50V295.50M469.63 295.50H474.63M476.10 294.50V289.50M473.60 289.50H478.60M480.08 303.00V298.00M477.58 298.00H482.58M484.05 307.00V302.00M481.55 302.00H486.55M488.02 312.00V307.00M485.52 307.00H490.52M491.99 306.00V301.00M489.49 301.00H494.49M495.96 307.00V302.00M493.46 302.00H498.46M499.94 309.00V304.00M497.44 304.00H502.44M503.91 311.00V306.00M501.41 306.00H506.41M507.88 313.50V308.50M505.38 308.50H510.38" stroke="#000000" stroke-width="1.1" fill="none" opacity="1.0"/><polyline points="321.20,259.00 325.17,260.00 329.14,272.00 333.11,280.00 337.08,283.50 341.06,288.50 345.03,288.50 349.00,293.50 352.97,300.00 356.94,305.00 360.92,301.00 364.89,302.00 368.86,306.00 372.83,303.00 376.80,305.00 380.78,311.00 384.75,315.00 388.72,309.00 392.69,307.00 396.66,306.00 400.64,305.00 404.61,302.00 408.58,294.00 412.55,300.00 416.52,300.00 420.50,302.00 424.47,305.00 428.44,306.00 432.41,308.50 436.38,306.00 440.36,303.00 444.33,308.00 448.30,304.00 452.27,301.00 456.24,305.00 460.22,308.50 464.19,306.00 468.16,305.00 472.13,300.50 476.10,294.50 480.08,303.00 484.05,307.00 488.02,312.00 491.99,306.00 495.96,307.00 499.94,309.00 503.91,311.00 507.88,313.50" stroke="#000000" stroke-width="2.5" fill="none" stroke-linejoin="round"/><path d="M138.30 128.20H162.30" stroke="#E4681A" stroke-width="1.8" stroke-linecap="butt"/><text x="163.30" y="132.40" font-size="11.6" text-anchor="start" >Not cured</text><path d="M138.30 144.85H162.30" stroke="#0404E6" stroke-width="2.6" stroke-linecap="butt"/><text x="163.30" y="149.05" font-size="11.6" text-anchor="start" >Cured</text><path d="M138.30 161.50H162.30" stroke="#000000" stroke-width="2.5" stroke-linecap="butt"/><text x="163.30" y="165.70" font-size="11.6" text-anchor="start" >No clinical disease</text><path d="M403.00 40.30H427.00" stroke="#E4681A" stroke-width="1.8" stroke-linecap="butt"/><text x="428.50" y="44.50" font-size="11.6" text-anchor="start" >Not cured</text><path d="M403.00 54.55H427.00" stroke="#0404E6" stroke-width="2.6" stroke-linecap="butt"/><text x="428.50" y="58.75" font-size="11.6" text-anchor="start" >Cured</text><path d="M403.00 68.80H427.00" stroke="#000000" stroke-width="2.5" stroke-linecap="butt"/><text x="428.50" y="73.00" font-size="11.6" text-anchor="start" >No clinical disease</text><path d="M138.00 369.50H162.00" stroke="#E4681A" stroke-width="1.8" stroke-linecap="butt"/><text x="163.50" y="373.70" font-size="11.6" text-anchor="start" >Not cured</text><path d="M138.00 385.25H162.00" stroke="#0404E6" stroke-width="2.6" stroke-linecap="butt"/><text x="163.50" y="389.45" font-size="11.6" text-anchor="start" >Cured</text><path d="M138.00 401.00H162.00" stroke="#000000" stroke-width="2.5" stroke-linecap="butt"/><text x="163.50" y="405.20" font-size="11.6" text-anchor="start" >No clinical disease</text><path d="M403.00 369.00H427.00" stroke="#E4681A" stroke-width="1.8" stroke-linecap="butt"/><text x="428.50" y="373.20" font-size="11.6" text-anchor="start" >Not cured</text><path d="M403.00 383.25H427.00" stroke="#0404E6" stroke-width="2.6" stroke-linecap="butt"/><text x="428.50" y="387.45" font-size="11.6" text-anchor="start" >Cured</text><path d="M403.00 397.50H427.00" stroke="#000000" stroke-width="2.5" stroke-linecap="butt"/><text x="428.50" y="401.70" font-size="11.6" text-anchor="start" >No clinical disease</text>
</svg></body></html>
